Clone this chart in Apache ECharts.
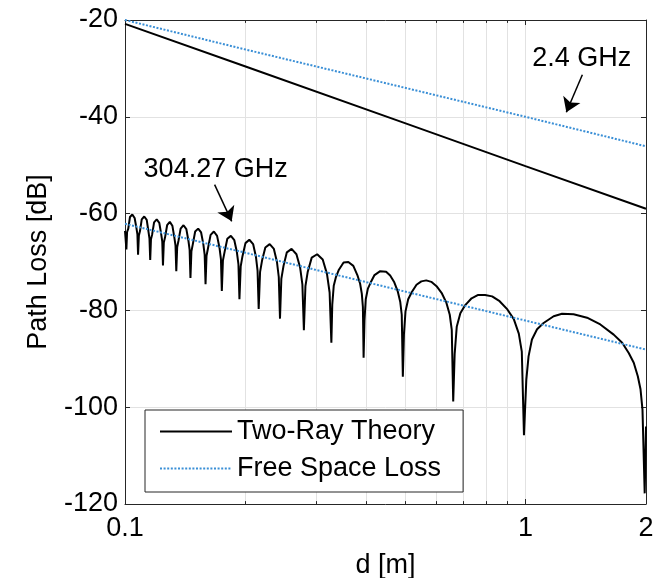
<!DOCTYPE html>
<html>
<head>
<meta charset="utf-8">
<script src="https://cdn.jsdelivr.net/npm/echarts@6/dist/echarts.min.js"></script>
<style>html,body{margin:0;padding:0;background:#fff}#c{width:654px;height:578px}</style>
</head>
<body>
<div id="c"></div>
<script>
// ---- data ----
const xTickValues = [0.1, 1, 2];
const minorGridX = [0.2, 0.3, 0.4, 0.5, 0.6, 0.7, 0.8, 0.9];
const yTickValues = [-120, -100, -80, -60, -40, -20];
const seriesNames = ['Two-Ray Theory', 'Free Space Loss'];
const annotationTexts = ['304.27 GHz', '2.4 GHz'];

// 2.4 GHz
const twoRay24 = [[0.1, -20.8], [0.2, -29.6], [0.5, -41.3], [1, -50.2], [2, -59.0]];
const freeSpace24 = [[0.1, -20.0], [0.2, -26.1], [0.5, -34.0], [1, -40.0], [2, -46.1]];
// 304.27 GHz
const freeSpace304 = [[0.1, -62.1], [0.2, -68.1], [0.5, -76.1], [1, -82.1], [2, -88.1]];
const twoRay304 = [
  [0.1, -63.6], [0.1008, -67.4],
  [0.1012, -63.8], [0.1019, -63.1], [0.1029, -60.7], [0.1043, -60.2], [0.1057, -60.9], [0.1068, -63.0], [0.1074, -64.3],
  [0.1078, -68.5],
  [0.1083, -64.5], [0.1090, -63.6], [0.1101, -61.2], [0.1117, -60.6], [0.1133, -61.3], [0.1144, -63.6], [0.1151, -65.1],
  [0.1156, -69.6],
  [0.1161, -65.3], [0.1169, -64.3], [0.1182, -61.8], [0.1200, -61.2], [0.1218, -61.9], [0.1231, -64.2], [0.1239, -65.8],
  [0.1244, -70.7],
  [0.1250, -66.0], [0.1259, -64.9], [0.1274, -62.4], [0.1294, -61.7], [0.1313, -62.5], [0.1328, -64.9], [0.1337, -66.6],
  [0.1343, -71.9],
  [0.1350, -66.9], [0.1360, -65.6], [0.1377, -63.1], [0.1400, -62.4], [0.1423, -63.2], [0.1440, -65.6], [0.1450, -67.5],
  [0.1457, -73.3],
  [0.1465, -67.8], [0.1477, -66.3], [0.1497, -63.7], [0.1523, -63.1], [0.1549, -63.9], [0.1569, -66.3], [0.1581, -68.5],
  [0.1589, -74.6],
  [0.1598, -68.7], [0.1612, -67.1], [0.1636, -64.4], [0.1667, -63.7], [0.1698, -64.6], [0.1722, -67.1], [0.1736, -69.4],
  [0.1745, -76.0],
  [0.1756, -69.7], [0.1773, -67.9], [0.1801, -65.2], [0.1838, -64.6], [0.1875, -65.5], [0.1903, -68.0], [0.1920, -70.5],
  [0.1931, -77.7],
  [0.1945, -70.9], [0.1965, -68.8], [0.1999, -66.1], [0.2044, -65.4], [0.2089, -66.3], [0.2123, -68.9], [0.2143, -71.8],
  [0.2157, -79.7],
  [0.2174, -72.1], [0.2199, -69.7], [0.2241, -67.0], [0.2298, -66.3], [0.2354, -67.3], [0.2396, -70.0], [0.2421, -73.1],
  [0.2438, -81.7],
  [0.2457, -73.5], [0.2488, -70.8], [0.2536, -68.0], [0.2606, -67.3], [0.2680, -68.4], [0.2738, -71.2], [0.2773, -74.6],
  [0.2797, -84.1],
  [0.2822, -75.0], [0.2860, -72.0], [0.2926, -69.1], [0.3019, -68.4], [0.3117, -69.5], [0.3195, -72.5], [0.3243, -76.3],
  [0.3276, -86.7],
  [0.3293, -78.8], [0.3321, -74.9], [0.3361, -73.2], [0.3421, -71.6], [0.3514, -70.1], [0.3612, -70.0], [0.3717, -70.8],
  [0.3804, -72.7], [0.3865, -74.5], [0.3903, -76.6], [0.3927, -79.3],
  [0.3943, -89.8],
  [0.3963, -82.1], [0.3992, -77.7], [0.4041, -75.5], [0.4109, -74.2], [0.4198, -72.7], [0.4338, -71.9], [0.4488, -72.0],
  [0.4594, -72.8], [0.4704, -74.2], [0.4796, -76.0], [0.4867, -78.2], [0.4910, -80.9],
  [0.4941, -93.7],
  [0.4972, -85.0], [0.5017, -80.2], [0.5095, -77.7], [0.5203, -76.2], [0.5345, -74.7], [0.5495, -74.0], [0.5653, -73.8],
  [0.5820, -74.1], [0.5998, -75.0], [0.6186, -76.5], [0.6346, -78.4], [0.6471, -80.9], [0.6546, -84.0],
  [0.6601, -98.8],
  [0.6656, -89.0], [0.6736, -83.4], [0.6877, -80.6], [0.7074, -78.9], [0.7337, -77.5], [0.7620, -76.8], [0.7926, -76.8],
  [0.8257, -77.1], [0.8619, -78.1], [0.9013, -79.8], [0.9352, -81.8], [0.9625, -84.8], [0.9792, -88.5],
  [0.9915, -105.8],
  [1.005, -94.3], [1.018, -89.5], [1.038, -86.0], [1.069, -83.9], [1.110, -82.6], [1.176, -81.2], [1.234, -80.7],
  [1.319, -80.8], [1.425, -81.5], [1.538, -82.9], [1.661, -85.0], [1.744, -86.7], [1.811, -88.8], [1.864, -90.8],
  [1.908, -93.6], [1.938, -96.3], [1.960, -100.5],
  [1.985, -117.8],
  [2.0, -104.0]
];

// ---- styling / layout ----
const FONT = "'Liberation Sans', Arial, Helvetica, sans-serif";
const AXIS_COLOR = '#262626';
const GRID_COLOR = '#e2e2e2';
const BLUE = '#3a8fd6';
const FS = 27;

// annotation anchors (in data coordinates)
const annot = [
  { label: [0.1684, -51.0], from: [0.1674, -54.0], to: [0.1847, -61.6] },
  { label: [1.383, -27.95], from: [1.387, -31.3], to: [1.265, -39.05] }
];

const chart = echarts.init(document.getElementById('c'), null, { renderer: 'canvas' });

const blackLine = { color: '#000', width: 2, type: 'solid' };
const blueLine = { color: BLUE, width: 2, type: [2, 1.6] };

const option = {
  animation: false,
  backgroundColor: '#fff',
  textStyle: { fontFamily: FONT },
  grid: { left: 125, right: 8, top: 20, bottom: 74, containLabel: false, outerBoundsMode: 'none' },
  legend: {
    data: seriesNames,
    orient: 'vertical',
    left: 145, top: 410,
    padding: [8, 22, 10, 14],
    itemGap: 10,
    itemWidth: 72,
    itemHeight: 27,
    itemTextGap: 8,
    backgroundColor: '#fff',
    borderColor: AXIS_COLOR,
    borderWidth: 1,
    borderRadius: 0,
    selectedMode: false,
    itemStyle: { opacity: 0, borderWidth: 0 },
    textStyle: { fontSize: FS, color: '#000', fontFamily: FONT, lineHeight: 27 }
  },
  xAxis: [
    {
      type: 'log', logBase: 10, min: xTickValues[0], max: xTickValues[xTickValues.length - 1],
      position: 'bottom',
      name: 'd [m]', nameLocation: 'middle', nameGap: 48,
      nameTextStyle: { fontSize: FS, color: '#000', fontFamily: FONT },
      axisLine: { show: true, onZero: false, lineStyle: { color: AXIS_COLOR, width: 1 } },
      axisTick: { show: true, inside: true, length: 5, lineStyle: { color: AXIS_COLOR } },
      axisLabel: { show: true, fontSize: FS, color: '#000', fontFamily: FONT, margin: 11, showMinLabel: true, showMaxLabel: true },
      splitLine: { show: true, lineStyle: { color: GRID_COLOR, width: 1 } },
      minorTick: { show: false }, minorSplitLine: { show: false }
    },
    {
      type: 'log', logBase: 10, min: xTickValues[0], max: xTickValues[xTickValues.length - 1],
      position: 'top',
      axisLine: { show: true, onZero: false, lineStyle: { color: AXIS_COLOR, width: 1 } },
      axisTick: { show: true, inside: true, length: 5, lineStyle: { color: AXIS_COLOR } },
      axisLabel: { show: false },
      splitLine: { show: false }
    }
  ],
  yAxis: [
    {
      type: 'value', min: yTickValues[0], max: yTickValues[yTickValues.length - 1], interval: 20,
      position: 'left',
      name: 'Path Loss [dB]', nameLocation: 'middle', nameGap: 73, nameRotate: 90,
      nameTextStyle: { fontSize: FS, color: '#000', fontFamily: FONT },
      axisLine: { show: true, onZero: false, lineStyle: { color: AXIS_COLOR, width: 1 } },
      axisTick: { show: true, inside: true, length: 5, lineStyle: { color: AXIS_COLOR } },
      axisLabel: { show: true, fontSize: FS, color: '#000', fontFamily: FONT, margin: 7 },
      splitLine: { show: true, lineStyle: { color: GRID_COLOR, width: 1 } }
    },
    {
      type: 'value', min: yTickValues[0], max: yTickValues[yTickValues.length - 1], interval: 20,
      position: 'right',
      axisLine: { show: true, onZero: false, lineStyle: { color: AXIS_COLOR, width: 1 } },
      axisTick: { show: true, inside: true, length: 5, lineStyle: { color: AXIS_COLOR } },
      axisLabel: { show: false },
      splitLine: { show: false }
    }
  ],
  series: [
    {
      type: 'line', name: '_grid', data: [], silent: true, z: 1,
      xAxisIndex: 0, yAxisIndex: 0,
      markLine: {
        silent: true, z: 1, symbol: ['none', 'none'], animation: false,
        label: { show: false },
        emphasis: { disabled: true },
        lineStyle: { color: GRID_COLOR, width: 1, type: 'solid' },
        data: minorGridX.map(v => ({ xAxis: v }))
          .concat(minorGridX.map(v => [
            { coord: [v, yTickValues[0]], lineStyle: { color: AXIS_COLOR, width: 1, type: 'solid' } },
            { coord: [v, yTickValues[0] + 0.6] }
          ]))
          .concat(minorGridX.map(v => [
            { coord: [v, yTickValues[yTickValues.length - 1]], lineStyle: { color: AXIS_COLOR, width: 1, type: 'solid' } },
            { coord: [v, yTickValues[yTickValues.length - 1] - 0.6] }
          ]))
      }
    },
    {
      type: 'line', name: seriesNames[0], data: twoRay24, symbol: 'none', showSymbol: false,
      color: '#000', lineStyle: blackLine, z: 2, clip: true
    },
    {
      type: 'line', name: seriesNames[0], data: twoRay304, symbol: 'none', showSymbol: false,
      color: '#000', lineStyle: blackLine, z: 2, clip: true
    },
    {
      type: 'line', name: seriesNames[1], data: freeSpace24, symbol: 'none', showSymbol: false,
      color: BLUE, lineStyle: blueLine, z: 3, clip: true
    },
    {
      type: 'line', name: seriesNames[1], data: freeSpace304, symbol: 'none', showSymbol: false,
      color: BLUE, lineStyle: blueLine, z: 3, clip: true
    },
    {
      type: 'line', name: '_annot', data: [], silent: true, z: 6,
      markLine: {
        silent: true, z: 6, animation: false,
        symbol: ['none', 'arrow'], symbolSize: 14,
        label: { show: false },
        emphasis: { disabled: true },
        itemStyle: { color: '#000' },
        lineStyle: { color: '#000', width: 1.5, type: 'solid' },
        data: annot.map(a => [{ coord: a.from }, { coord: a.to }])
      },
      markPoint: {
        silent: true, z: 6, animation: false,
        symbol: 'circle', symbolSize: 0,
        itemStyle: { color: 'transparent' },
        label: {
          show: true, position: 'inside', fontSize: FS, color: '#000', fontFamily: FONT,
          formatter: p => p.name
        },
        data: annot.map((a, i) => ({ name: annotationTexts[i], coord: a.label, value: annotationTexts[i] }))
      }
    }
  ]
};

chart.setOption(option);
</script>
</body>
</html>
